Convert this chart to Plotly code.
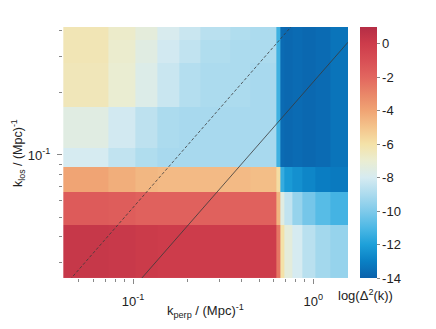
import plotly.graph_objects as go

# k_perp bin edges (Mpc^-1), left to right
kperp_edges = [0.041, 0.073, 0.103, 0.136, 0.18, 0.235, 0.345, 0.45, 0.622,
               0.656, 0.69, 0.764, 0.868, 1.026, 1.24, 1.56]
# k_los bin edges (Mpc^-1), bottom to top
klos_edges = [0.0253, 0.046, 0.066, 0.0875, 0.108, 0.171, 0.280, 0.361, 0.418]

# log(Delta^2(k)) per cell, rows bottom -> top
logdelta2 = [
    [0.3, 0.2, 0.1, 0.0, 0.0, 0.0, 0.0, 0.0, -2.5, -6.0, -7.3, -8.0, -8.7, -9.2, -9.5],
    [-1.5, -1.6, -1.8, -1.8, -1.8, -1.8, -1.8, -1.8, -4.5, -7.5, -8.5, -9.5, -10.2, -10.8, -11.2],
    [-4.0, -4.3, -4.6, -4.7, -4.7, -4.7, -4.7, -4.8, -5.8, -11.5, -12.2, -12.5, -12.8, -13.1, -13.2],
    [-8.0, -8.5, -8.9, -9.1, -9.1, -9.1, -9.1, -9.1, -11.3, -13.7, -13.8, -13.7, -13.8, -13.7, -13.4],
    [-7.5, -8.1, -8.6, -9.0, -9.1, -9.1, -9.1, -9.1, -11.3, -13.7, -13.8, -13.7, -13.8, -13.7, -13.4],
    [-6.4, -7.0, -7.7, -8.3, -8.8, -9.0, -9.0, -9.1, -11.3, -13.7, -13.8, -13.7, -13.8, -13.7, -13.4],
    [-6.3, -6.9, -7.5, -8.1, -8.5, -8.9, -9.0, -9.0, -11.3, -13.7, -13.8, -13.7, -13.8, -13.7, -13.4],
    [-6.3, -6.8, -7.3, -7.9, -8.3, -8.7, -8.9, -9.0, -11.3, -13.7, -13.8, -13.7, -13.8, -13.7, -13.4],
]

# wedge lines k_los = slope * k_perp
wedge_slopes = [0.556, 0.226]
wedge_dash = ["3px,2px", "solid"]

cbar_ticks = [0, -2, -4, -6, -8, -10, -12, -14]
x_major = [0.1, 1.0]
x_major_text = ["10<sup>-1</sup>", "10<sup>0</sup>"]
x_minor = [0.05, 0.06, 0.07, 0.08, 0.09, 0.2, 0.3, 0.4, 0.5, 0.6, 0.7, 0.8, 0.9]
y_major = [0.1]
y_major_text = ["10<sup>-1</sup>"]
y_minor = [0.03, 0.04, 0.05, 0.06, 0.07, 0.08, 0.09, 0.2, 0.3, 0.4]

colorscale = [
    [0 / 15, "#0b62ab"], [1 / 15, "#0a80c4"], [2 / 15, "#1ea0d9"],
    [3 / 15, "#4db8e5"], [4 / 15, "#7fcaea"], [5 / 15, "#acdbee"],
    [6 / 15, "#d6ebf1"], [7 / 15, "#eaedd2"], [8 / 15, "#f4e2a8"],
    [9 / 15, "#f4c48c"], [10 / 15, "#f0a474"], [11 / 15, "#e98668"],
    [12 / 15, "#e2665f"], [13 / 15, "#d84f55"], [14 / 15, "#cd3c4b"],
    [15 / 15, "#b42d45"],
]

FONT = "Liberation Sans, Arial, sans-serif"
TXT = "#222222"

fig = go.Figure()

fig.add_trace(go.Heatmap(
    x=kperp_edges, y=klos_edges, z=logdelta2,
    colorscale=colorscale, zmin=-14, zmax=1,
    colorbar=dict(
        x=1.042, xanchor="left", xpad=0, y=0.5, yanchor="middle", ypad=0,
        len=1, lenmode="fraction", thickness=17, outlinewidth=0,
        tickvals=cbar_ticks, ticktext=[str(t) for t in cbar_ticks],
        ticks="outside", ticklen=3, tickcolor="#888888",
        tickfont=dict(family=FONT, size=13, color=TXT),
    ),
    hoverinfo="skip",
))

x0, x1 = kperp_edges[0], kperp_edges[-1]
for s, d in zip(wedge_slopes, wedge_dash):
    fig.add_trace(go.Scatter(
        x=[x0, x1], y=[s * x0, s * x1], mode="lines",
        line=dict(color="#3a3a3a", width=0.8, dash=d),
        showlegend=False, hoverinfo="skip",
    ))

# page body adds an 8px offset, margins compensate
fig.update_layout(
    width=436, height=329,
    margin=dict(l=55, r=96, t=19, b=59),
    paper_bgcolor="white", plot_bgcolor="white",
    font=dict(family=FONT, size=13, color=TXT),
    showlegend=False,
    xaxis=dict(
        type="log", range=[-1.389, 0.193],
        tickmode="array", tickvals=x_major, ticktext=x_major_text,
        ticks="outside", ticklen=5, tickcolor="#888888",
        minor=dict(tickmode="array", tickvals=x_minor, ticks="outside",
                   ticklen=3, tickcolor="#888888", showgrid=False),
        showgrid=False, zeroline=False, showline=False,
        tickfont=dict(family=FONT, size=13, color=TXT),
        ticklabelstandoff=6,
    ),
    yaxis=dict(
        type="log", range=[-1.597, -0.379],
        tickmode="array", tickvals=y_major, ticktext=y_major_text,
        ticks="outside", ticklen=5, tickcolor="#888888",
        minor=dict(tickmode="array", tickvals=y_minor, ticks="outside",
                   ticklen=3, tickcolor="#888888", showgrid=False),
        showgrid=False, zeroline=False, showline=False,
        tickfont=dict(family=FONT, size=13, color=TXT),
        ticklabelstandoff=4,
    ),
    annotations=[
        dict(text="k<sub>perp</sub> / (Mpc)<sup>-1</sup>", xref="paper", yref="paper",
             x=0.5, y=-0.13, xanchor="center", yanchor="middle", showarrow=False,
             font=dict(family=FONT, size=13, color=TXT)),
        dict(text="k<sub>los</sub> / (Mpc)<sup>-1</sup>", xref="paper", yref="paper",
             x=-0.16, y=0.5, xanchor="center", yanchor="middle", showarrow=False,
             textangle=-90, font=dict(family=FONT, size=12.5, color=TXT)),
        dict(text="log(\u0394<sup>2</sup>(k))", xref="paper", yref="paper",
             x=1.063, y=-0.068, xanchor="center", yanchor="middle", showarrow=False,
             font=dict(family=FONT, size=13, color=TXT)),
    ],
)

fig.write_html("out.html")
